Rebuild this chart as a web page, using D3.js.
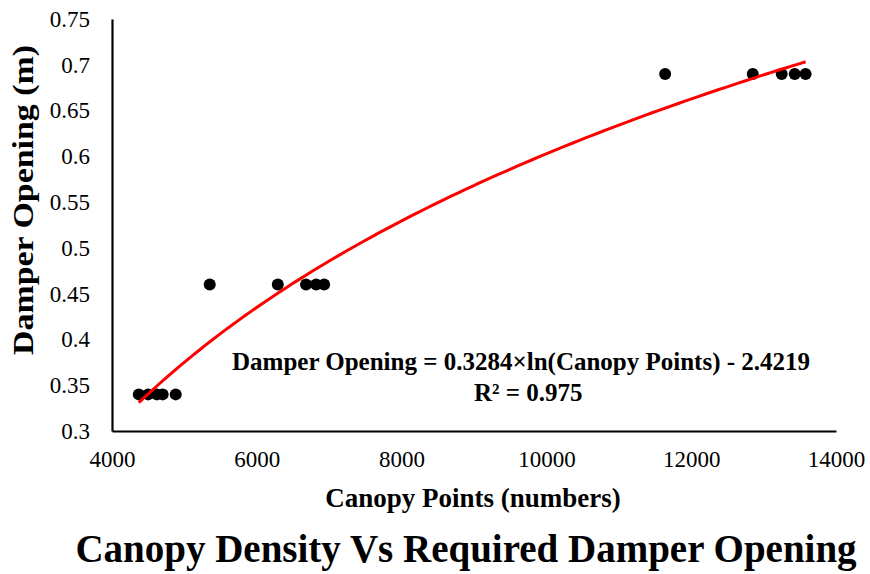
<!DOCTYPE html>
<html>
<head>
<meta charset="utf-8">
<script src="https://cdn.jsdelivr.net/npm/d3@7"></script>
<style>
  html, body { margin: 0; padding: 0; background: #fff; }
  svg { display: block; }
  text { font-family: "Liberation Serif", "Times New Roman", serif; fill: #000; }
</style>
</head>
<body>
<svg id="chart" width="870" height="574"></svg>
<script>
// Canopy point counts and the damper opening required for each
const canopyPoints = [4370, 4500, 4620, 4700, 4880,
                      5350, 6290, 6680, 6820, 6930,
                      11640, 12850, 13250, 13430, 13580];
const damperOpening = [0.34, 0.34, 0.34, 0.34, 0.34,
                       0.46, 0.46, 0.46, 0.46, 0.46,
                       0.69, 0.69, 0.69, 0.69, 0.69];

// Logarithmic trendline: y = a*ln(x) + b
const fitA = 0.3284;
const fitB = -2.4219;
const rSquared = 0.975;

const xTicks = [4000, 6000, 8000, 10000, 12000, 14000];
const yTicks = [0.3, 0.35, 0.4, 0.45, 0.5, 0.55, 0.6, 0.65, 0.7, 0.75];

const serif = "'Liberation Serif', 'Times New Roman', serif";
const svg = d3.select("#chart");
const plotLeft = 112, plotRight = 836, plotTop = 19, plotBottom = 431;

const x = d3.scaleLinear().domain([4000, 14000]).range([plotLeft, plotRight]);
const y = d3.scaleLinear().domain([0.3, 0.75]).range([plotBottom, plotTop]);

// Axes (no tick marks, only the axis lines and labels)
const xAxis = svg.append("g")
  .attr("transform", `translate(0,${plotBottom})`)
  .attr("font-family", serif)
  .call(d3.axisBottom(x).tickValues(xTicks).tickSize(0).tickPadding(20)
    .tickFormat(d3.format("d")));
const yAxis = svg.append("g")
  .attr("transform", `translate(${plotLeft},0)`)
  .attr("font-family", serif)
  .call(d3.axisLeft(y).tickValues(yTicks).tickSize(0).tickPadding(22)
    .tickFormat(d => String(+d.toFixed(2))));

[xAxis, yAxis].forEach(g => {
  g.select(".domain").attr("stroke", "#000").attr("stroke-width", 2.2);
  g.selectAll("text")
    .style("font-family", serif)
    .style("font-size", "23px")
    .attr("fill", "#000");
});

// Data points
svg.append("g").selectAll("circle")
  .data(canopyPoints.map((c, i) => [c, damperOpening[i]]))
  .join("circle")
  .attr("cx", d => x(d[0]))
  .attr("cy", d => y(d[1]))
  .attr("r", 6)
  .attr("fill", "#000");

// Trendline over the observed range
const [xmin, xmax] = d3.extent(canopyPoints);
const curvePts = d3.range(0, 101).map(i => {
  const cx = xmin + (xmax - xmin) * i / 100;
  return [cx, fitA * Math.log(cx) + fitB];
});
svg.append("path")
  .datum(curvePts)
  .attr("fill", "none")
  .attr("stroke", "#ff0000")
  .attr("stroke-width", 3)
  .attr("d", d3.line().x(d => x(d[0])).y(d => y(d[1])));

// Trendline equation label
svg.append("text")
  .attr("x", 232).attr("y", 370)
  .style("font-family", serif)
  .style("font-size", "25px").style("font-weight", "bold")
  .text(`Damper Opening = ${fitA}×ln(Canopy Points) - ${Math.abs(fitB)}`);
svg.append("text")
  .attr("x", 474).attr("y", 401)
  .style("font-family", serif)
  .style("font-size", "25px").style("font-weight", "bold")
  .text(`R² = ${rSquared}`);

// Axis titles
svg.append("text")
  .attr("x", 473).attr("y", 507)
  .attr("text-anchor", "middle")
  .style("font-family", serif)
  .style("font-size", "27px").style("font-weight", "bold")
  .text("Canopy Points (numbers)");
svg.append("text")
  .attr("transform", "translate(33,200) rotate(-90)")
  .attr("text-anchor", "middle")
  .attr("textLength", 310)
  .attr("lengthAdjust", "spacingAndGlyphs")
  .style("font-family", serif)
  .style("font-size", "29px").style("font-weight", "bold")
  .text("Damper Opening (m)");

// Chart title
svg.append("text")
  .attr("x", 466).attr("y", 562)
  .attr("text-anchor", "middle")
  .style("font-family", serif)
  .style("font-size", "39px").style("font-weight", "bold")
  .text("Canopy Density Vs Required Damper Opening");
</script>
</body>
</html>
